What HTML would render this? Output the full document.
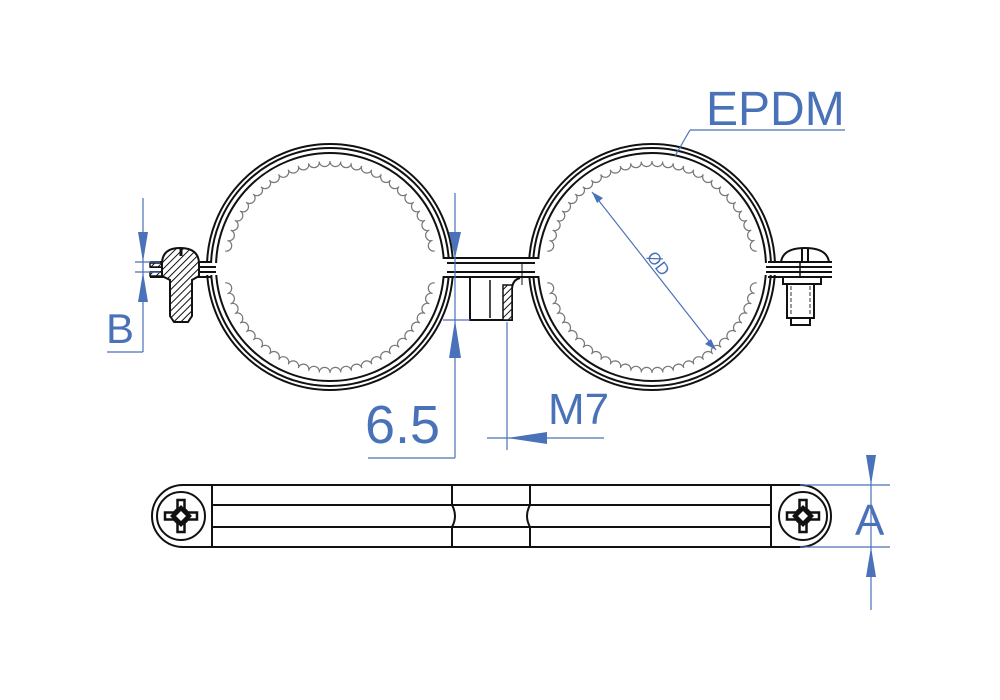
<!DOCTYPE html>
<html><head><meta charset="utf-8"><style>
html,body{margin:0;padding:0;background:#fff;width:1000px;height:700px;overflow:hidden}
svg{display:block}
text{font-family:"Liberation Sans",sans-serif;fill:#4a72b8}
</style></head><body>
<svg id="s" width="1000" height="700" viewBox="0 0 1000 700" xmlns="http://www.w3.org/2000/svg">
<defs>
<pattern id="h" width="5" height="5" patternUnits="userSpaceOnUse" patternTransform="rotate(45)">
<rect width="5" height="5" fill="#fff"/><line x1="0" y1="0" x2="0" y2="5" stroke="#111" stroke-width="2"/></pattern>
</defs>
<g id="scal"></g>
<g fill="none" stroke="#111" stroke-width="2">
<circle cx="330" cy="267" r="123"/><circle cx="330" cy="267" r="119"/><circle cx="330" cy="267" r="114"/>
<circle cx="652" cy="267" r="123"/><circle cx="652" cy="267" r="119"/><circle cx="652" cy="267" r="114"/>
</g>
<g fill="#fff">
<rect x="198" y="263" width="20" height="12"/>
<rect x="438" y="259" width="20" height="17"/>
<rect x="524" y="259" width="22" height="17"/>
<rect x="762" y="263" width="20" height="12"/>
</g>
<g fill="none" stroke="#111" stroke-width="2">
<line x1="444" y1="258" x2="538" y2="258"/><line x1="447" y1="263" x2="535" y2="263"/>
<line x1="447" y1="272" x2="535" y2="272"/><line x1="444" y1="277" x2="538" y2="277"/>
<line x1="150" y1="262" x2="212" y2="262"/><line x1="150" y1="267" x2="216" y2="267"/>
<line x1="150" y1="272" x2="216" y2="272"/><line x1="150" y1="277" x2="212" y2="277"/>
<line x1="768" y1="262" x2="832" y2="262"/><line x1="766" y1="267" x2="832" y2="267"/>
<line x1="766" y1="272" x2="832" y2="272"/><line x1="768" y1="277" x2="832" y2="277"/>
</g>
<path d="M470 278 L470 320 L512 320 L512 290 Q512 280 520 278" fill="#fff" stroke="#111" stroke-width="2"/>
<rect x="503" y="285" width="9" height="35" fill="url(#h)" stroke="#111" stroke-width="1.5"/>
<line x1="490" y1="280" x2="490" y2="318" stroke="#111" stroke-width="1.5"/>
<line x1="522" y1="262" x2="522" y2="285" stroke="#111" stroke-width="1"/>
<rect x="150" y="263" width="14" height="4" fill="url(#h)" stroke="#111" stroke-width="1.5"/>
<rect x="150" y="272" width="14" height="4" fill="url(#h)" stroke="#111" stroke-width="1.5"/>
<path d="M162 264 Q162 248 180 248 Q199 248 199 264 L199 276 L192 280 L192 316 L188 322 L174 322 L170 316 L170 280 L162 276 Z" fill="url(#h)" stroke="#111" stroke-width="2"/>
<line x1="181" y1="248" x2="181" y2="256" stroke="#111" stroke-width="3"/>
<path d="M781 262 Q783 248 805 248 Q827 248 829 262 Z" fill="#fff" stroke="#111" stroke-width="2"/>
<line x1="802" y1="249" x2="802" y2="261" stroke="#111" stroke-width="2"/><line x1="808" y1="249" x2="808" y2="261" stroke="#111" stroke-width="2"/>
<line x1="800" y1="262" x2="800" y2="277" stroke="#111" stroke-width="1.5"/>
<rect x="783" y="277" width="38" height="7" fill="#fff" stroke="#111" stroke-width="2"/>
<rect x="787" y="284" width="27" height="34" fill="#fff" stroke="#111" stroke-width="2"/>
<line x1="791" y1="286" x2="791" y2="316" stroke="#999" stroke-width="2" stroke-dasharray="4 2"/>
<line x1="810" y1="286" x2="810" y2="316" stroke="#999" stroke-width="2" stroke-dasharray="4 2"/>
<rect x="791" y="318" width="19" height="7" fill="#fff" stroke="#111" stroke-width="2"/>
<g fill="none" stroke="#111" stroke-width="2">
<path d="M183 485 L800 485 A31 31 0 0 1 800 547 L183 547 A31 31 0 0 1 183 485 Z"/>
<line x1="212" y1="485" x2="212" y2="547"/><line x1="771" y1="485" x2="771" y2="547"/>
<path d="M452 485 L452 505 Q458 516 452 527 L452 547"/>
<path d="M530 485 L530 505 Q524 516 530 527 L530 547"/>
<line x1="212" y1="505" x2="771" y2="505"/><line x1="212" y1="527" x2="771" y2="527"/>
<circle cx="181" cy="516" r="24"/><circle cx="803" cy="516" r="24"/>
</g>
<g id="cross"></g>
<g stroke="#4a72b8" stroke-width="1.2" fill="none">
<line x1="143" y1="198" x2="143" y2="352"/><line x1="135" y1="262" x2="160" y2="262"/><line x1="135" y1="272" x2="160" y2="272"/><line x1="107" y1="352" x2="143" y2="352"/>
<line x1="455" y1="193" x2="455" y2="458"/><line x1="368" y1="458" x2="455" y2="458"/><line x1="443" y1="320" x2="470" y2="320"/>
<line x1="507" y1="322" x2="507" y2="450"/><line x1="487" y1="438" x2="604" y2="438"/>
<line x1="690" y1="130" x2="845" y2="130"/><line x1="690" y1="130" x2="675" y2="156"/>
<line x1="592" y1="192" x2="716" y2="350"/>
<line x1="871" y1="455" x2="871" y2="610"/><line x1="800" y1="485" x2="890" y2="485"/><line x1="800" y1="547" x2="890" y2="547"/>
</g>
<g fill="#4a72b8">
<polygon points="143,262 138,232 148,232"/><polygon points="143,272 138,302 148,302"/>
<polygon points="455,258 449,232 461,232"/><polygon points="455,320 449,358 461,358"/>
<polygon points="507,438 547,432 547,444"/>
<polygon points="592,192 603,198 597,203"/><polygon points="716,350 705,344 711,339"/>
<polygon points="871,485 866,455 876,455"/><polygon points="871,547 866,577 876,577"/>
</g>
<text x="106" y="343" font-size="42">B</text>
<text x="365" y="443" font-size="54">6.5</text>
<text x="548" y="424" font-size="44">M7</text>
<text x="706" y="125" font-size="48">EPDM</text>
<text x="855" y="535" font-size="44">A</text>
<text x="0" y="0" font-size="17" transform="translate(646,257) rotate(52)">ØD</text>
</svg>
<script>
var g=document.getElementById("scal"),out="";
[330,652].forEach(function(cx){
 var cy=267,n=62;
 for(var i=0;i<n;i++){var a=i/n*2*Math.PI,deg=a*180/Math.PI;
  if(deg<6||deg>354||(deg>174&&deg<186))continue;
  out+='<circle cx="'+(cx+106*Math.cos(a)).toFixed(1)+'" cy="'+(cy+106*Math.sin(a)).toFixed(1)+'" r="5.5" fill="#fff" stroke="#777" stroke-width="1.2"/>';}
 out+='<circle cx="'+cx+'" cy="'+cy+'" r="110" fill="none" stroke="#fff" stroke-width="8"/>';
});
g.innerHTML=out;
var cr="";
[[181,516],[803,516]].forEach(function(p){
 var x=p[0],y=p[1];
 cr+='<path transform="translate('+x+','+y+')" d="M-3.5,-16 L3.5,-16 L3.5,-7 Q7,-3.5 7,-3.5 L16,-3.5 L16,3.5 L7,3.5 Q3.5,7 3.5,7 L3.5,16 L-3.5,16 L-3.5,7 L-7,3.5 L-16,3.5 L-16,-3.5 L-7,-3.5 L-3.5,-7 Z" fill="#fff" stroke="#111" stroke-width="2.5"/>';
 cr+='<path transform="translate('+x+','+y+')" d="M0,-11 L11,0 L0,11 L-11,0 Z M0,-5 L5,0 L0,5 L-5,0 Z" fill="#111" fill-rule="evenodd"/>';
});
document.getElementById("cross").innerHTML=cr;
</script>
</body></html>
